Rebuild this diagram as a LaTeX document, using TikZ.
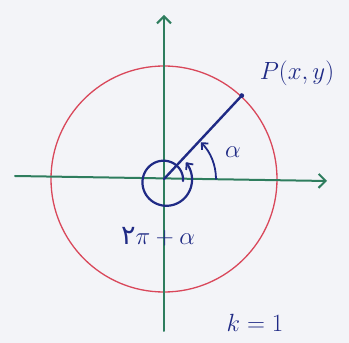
\documentclass[tikz,border=0pt]{standalone}
\usepackage{fontspec}
\usetikzlibrary{arrows.meta,calc}
\newfontfamily\arabicfont[Script=Arabic]{DejaVu Sans}
\definecolor{axisgreen}{HTML}{2E7D5E}
\definecolor{circred}{HTML}{D9475A}
\definecolor{inkblue}{HTML}{1F2A85}
\definecolor{paper}{HTML}{F3F4F8}
\tikzset{
  axisline/.style={draw=axisgreen, line width=2pt, line cap=round},
  axisarrow/.style={-{Straight Barb[length=7pt,width=14pt,line width=2pt]}},
  inkline/.style={draw=inkblue, line width=2.4pt, line cap=round},
  inkarrow/.style={-{Straight Barb[length=5pt,width=9pt,line width=1.8pt]}},
  handtext/.style={text=inkblue, inner sep=0pt}
}
\begin{document}
\begin{tikzpicture}[x=1pt,y=1pt]
\fill[paper] (0,0) rectangle (349,343);
\useasboundingbox (0,0) rectangle (349,343);
\coordinate (O) at (164,164);
\coordinate (P) at ($(O)+(47:114)$);
% big circle
\draw[circred, line width=1.3pt] (O) circle[radius=113];
% axes
\draw[axisline, axisarrow] (15,167) -- (327,162);
\draw[axisline, axisarrow] (164,12) -- (164,328);
% radius OP
\draw[inkline] (O) -- (P);
\fill[inkblue] (P) circle[radius=2.4];
% angle alpha
\draw[inkline, line width=1.8pt, inkarrow] ($(O)+(52,0)$) arc[start angle=0, end angle=45, radius=52];
% spiral 2pi + alpha
\draw[inkline, line width=2.2pt, inkarrow] plot[domain=0:402, samples=120, smooth]
  ({165+(18+\x/40)*cos(\x)}, {162+(18+\x/40)*sin(\x)});
% labels
\node[handtext, font=\fontsize{29}{33}\selectfont] (plabel) at (297,270) {$P(x,y)$};
\node[handtext, font=\fontsize{26}{30}\selectfont] (alabel) at (233,191) {$\alpha$};
\node[handtext, font=\fontsize{27}{31}\selectfont] (slabel) at (158,106) {{\arabicfont ۲}$\pi+\alpha$};
\node[handtext, font=\fontsize{25}{29}\selectfont] (klabel) at (255,20) {$k=1$};
\end{tikzpicture}
\end{document}
